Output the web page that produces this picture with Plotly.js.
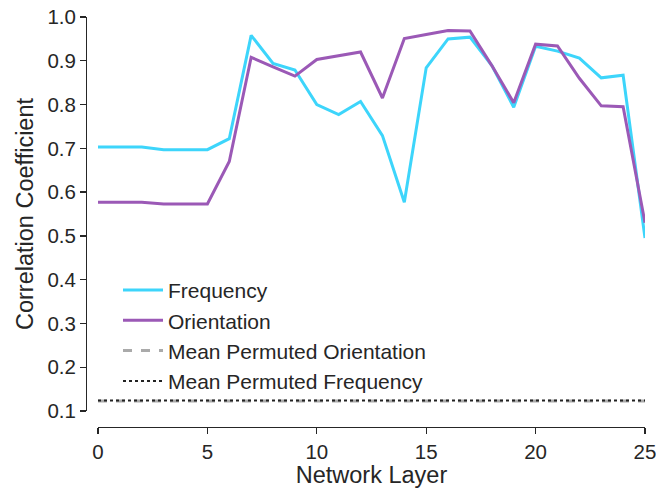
<!DOCTYPE html>
<html>
<head>
<meta charset="utf-8">
<script src="https://cdn.plot.ly/plotly-3.0.1.min.js"></script>
<style>html,body{margin:0;padding:0;background:#fff}</style>
</head>
<body>
<div id="chart" style="width:656px;height:488px"></div>
<script>
const layers = [0,1,2,3,4,5,6,7,8,9,10,11,12,13,14,15,16,17,18,19,20,21,22,23,24,25];
const frequency = [0.703,0.703,0.703,0.697,0.697,0.697,0.722,0.958,0.894,0.879,0.800,0.777,0.807,0.729,0.577,0.884,0.950,0.954,0.889,0.794,0.933,0.922,0.906,0.861,0.867,0.495];
const orientation = [0.577,0.577,0.577,0.573,0.573,0.573,0.670,0.908,0.886,0.865,0.903,0.912,0.920,0.815,0.951,0.960,0.969,0.968,0.889,0.804,0.938,0.934,0.860,0.797,0.795,0.530];
const permOrientation = [0.123,0.123,0.123,0.123,0.123,0.123,0.123,0.123,0.123,0.123,0.123,0.123,0.123,0.123,0.123,0.123,0.123,0.123,0.123,0.123,0.123,0.123,0.123,0.123,0.123,0.123];
const permFrequency = [0.124,0.124,0.124,0.124,0.124,0.124,0.124,0.124,0.124,0.124,0.124,0.124,0.124,0.124,0.124,0.124,0.124,0.124,0.124,0.124,0.124,0.124,0.124,0.124,0.124,0.124];
const xTicks = [0,5,10,15,20,25];
const yTicks = [0.1,0.2,0.3,0.4,0.5,0.6,0.7,0.8,0.9,1.0];

const font = "Liberation Sans, Arial, sans-serif";
const txt = "#262626";

const traces = [
  {x: layers, y: frequency, name: "Frequency", mode: "lines", legendgroup: "a",
   line: {color: "#3dd5fb", width: 3}},
  {x: layers, y: orientation, name: "Orientation", mode: "lines", legendgroup: "b",
   line: {color: "#9b59b6", width: 3}},
  {x: layers, y: permOrientation, name: "Mean Permuted Orientation", mode: "lines", legendgroup: "c",
   line: {color: "#aaaaaa", width: 3, dash: "dash"}},
  {x: layers, y: permFrequency, name: "Mean Permuted Frequency", mode: "lines", legendgroup: "d",
   line: {color: "#222222", width: 2, dash: "dot"}}
];

const layout = {
  width: 656, height: 488,
  margin: {l: 0, r: 0, t: 0, b: 0},
  paper_bgcolor: "#ffffff", plot_bgcolor: "#ffffff",
  font: {family: font, size: 20, color: txt},
  showlegend: true,
  legend: {x: 118/656, y: 0.447, xanchor: "left", yanchor: "top", traceorder: "grouped",
           tracegroupgap: 0, itemwidth: 40, bgcolor: "rgba(0,0,0,0)",
           font: {family: font, size: 21, color: txt}},
  xaxis: {
    domain: [98/656, 645/656], range: [0, 25], anchor: "free", position: 61/488,
    tickmode: "array", tickvals: xTicks, ticktext: xTicks.map(String),
    ticklabeloverflow: "allow",
    showgrid: false, zeroline: false, showline: true, linecolor: txt, linewidth: 1.25,
    ticks: "outside", ticklen: 6, tickwidth: 1.25, tickcolor: txt,
    tickfont: {family: font, size: 20.5, color: txt},
    title: {text: "Network Layer", font: {family: font, size: 23.5, color: txt}, standoff: 1}
  },
  yaxis: {
    domain: [77/488, 471/488], range: [0.1, 1.0], anchor: "free", position: 86/656,
    tickmode: "array", tickvals: yTicks, ticktext: yTicks.map(v => v.toFixed(1)),
    ticklabeloverflow: "allow",
    showgrid: false, zeroline: false, showline: true, linecolor: txt, linewidth: 1.25,
    ticks: "outside", ticklen: 6, tickwidth: 1.25, tickcolor: txt,
    tickfont: {family: font, size: 20.5, color: txt},
    title: {text: "Correlation Coefficient", font: {family: font, size: 23.5, color: txt}, standoff: 6}
  }
};

Plotly.newPlot("chart", traces, layout, {displayModeBar: false, staticPlot: true});
</script>
</body>
</html>
